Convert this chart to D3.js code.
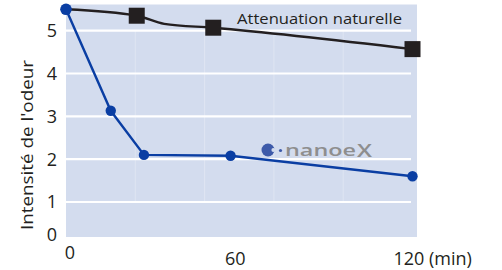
<!DOCTYPE html>
<html>
<head>
<meta charset="utf-8">
<script src="https://cdn.jsdelivr.net/npm/d3@7"></script>
<style>
  html, body { margin: 0; padding: 0; background: #fff; }
  svg { display: block; font-family: 'Open Sans', sans-serif; }
</style>
</head>
<body>
<div id="chart"></div>
<script>
// values
const nanoeTime = [0, 15.5, 27, 57, 120];
const nanoeValue = [5.5, 3.13, 2.1, 2.08, 1.6];

const naturalTime = [0, 24.5, 34, 51, 120];
const naturalValue = [5.5, 5.35, 5.16, 5.07, 4.57];
const naturalMarked = [false, true, false, true, true];

const yTicks = [0, 1, 2, 3, 4, 5];
const yGrid = [1, 2, 3, 4, 5];
const xGrid = [24, 48, 72, 96];
const xTicks = [0, 60, 120];
const xTickLabels = ['0', '60', '120 (min)'];

const yTitle = "Intensité de l'odeur";
const naturalLabel = 'Attenuation naturelle';

const width = 502, height = 270;
const plot = { left: 66, right: 417, top: 4.5, bottom: 237 };

const svg = d3.select('#chart').append('svg')
  .attr('width', width)
  .attr('height', height);

const x = d3.scaleLinear().domain([0, 120]).range([66, 412.5]);
const y = d3.scaleLinear().domain([0, 5]).range([244.8, 30.7]);

svg.append('rect')
  .attr('x', plot.left)
  .attr('y', plot.top)
  .attr('width', plot.right - plot.left)
  .attr('height', plot.bottom - plot.top)
  .attr('fill', '#d3dcee');

// faint vertical grid
svg.append('g')
  .selectAll('line')
  .data(xGrid)
  .join('line')
    .attr('x1', d => x(d)).attr('x2', d => x(d))
    .attr('y1', y(5)).attr('y2', y(1))
    .attr('stroke', '#dfe5f2')
    .attr('stroke-width', 1);

svg.append('g')
  .selectAll('line')
  .data(yGrid)
  .join('line')
    .attr('x1', plot.left).attr('x2', 411)
    .attr('y1', d => y(d)).attr('y2', d => y(d))
    .attr('stroke', '#fff')
    .attr('stroke-width', 2.2);

// y tick labels
svg.append('g')
  .attr('font-size', 18)
  .attr('fill', '#231f20')
  .attr('text-anchor', 'end')
  .selectAll('text')
  .data(yTicks)
  .join('text')
    .attr('x', 57)
    .attr('y', d => Math.min(y(d), 235))
    .attr('dy', '0.36em')
    .text(d => d);

// x tick labels
svg.append('g')
  .attr('font-size', 18)
  .attr('fill', '#231f20')
  .selectAll('text')
  .data(xTicks)
  .join('text')
    .attr('x', (d, i) => i === 0 ? x(d) + 4 : (i === xTicks.length - 1 ? x(d) - 19 : x(d) - 4))
    .attr('y', (d, i) => i === 0 ? 259 : 265)
    .attr('text-anchor', (d, i) => i === xTicks.length - 1 ? 'start' : 'middle')
    .text((d, i) => xTickLabels[i]);

svg.append('text')
  .attr('transform', 'translate(33,145) rotate(-90)')
  .attr('text-anchor', 'middle')
  .attr('font-size', 17)
  .attr('fill', '#231f20')
  .attr('textLength', 170)
  .attr('lengthAdjust', 'spacingAndGlyphs')
  .text(yTitle);

// natural attenuation
const natural = naturalTime.map((t, i) => ({ t, v: naturalValue[i], m: naturalMarked[i] }));
svg.append('path')
  .datum(natural)
  .attr('fill', 'none')
  .attr('stroke', '#231f20')
  .attr('stroke-width', 2.4)
  .attr('d', d3.line().x(d => x(d.t)).y(d => y(d.v)).curve(d3.curveMonotoneX));

svg.append('g')
  .selectAll('rect')
  .data(natural.filter(d => d.m))
  .join('rect')
    .attr('x', d => x(d.t) - 8)
    .attr('y', d => y(d.v) - 8)
    .attr('width', 16)
    .attr('height', 16)
    .attr('fill', '#231f20');

svg.append('text')
  .attr('x', 237)
  .attr('y', 24)
  .attr('font-size', 15)
  .attr('fill', '#231f20')
  .attr('textLength', 165)
  .attr('lengthAdjust', 'spacingAndGlyphs')
  .text(naturalLabel);

// nanoe series
const nanoe = nanoeTime.map((t, i) => ({ t, v: nanoeValue[i] }));
svg.append('path')
  .datum(nanoe)
  .attr('fill', 'none')
  .attr('stroke', '#0a3ea3')
  .attr('stroke-width', 2.4)
  .attr('d', d3.line().x(d => x(d.t)).y(d => y(d.v)));

svg.append('g')
  .selectAll('circle')
  .data(nanoe)
  .join('circle')
    .attr('cx', d => x(d.t))
    .attr('cy', d => y(d.v))
    .attr('r', (d, i) => i === 0 ? 5.8 : 5.2)
    .attr('fill', '#0a3ea3');

// nanoe X logo
const logo = svg.append('g').attr('transform', 'translate(268,150)');
logo.append('circle').attr('r', 6.5).attr('fill', '#3d5aa9');
logo.append('circle').attr('cx', 5.4).attr('cy', 0).attr('r', 2).attr('fill', '#d3dcee');
logo.append('circle').attr('cx', 12.5).attr('cy', 0.5).attr('r', 1.6).attr('fill', '#3d5aa9');
logo.append('text')
  .attr('x', 17)
  .attr('y', 5.5)
  .attr('font-size', 16)
  .attr('font-weight', 600)
  .attr('fill', '#8e8e8e')
  .attr('textLength', 71)
  .attr('lengthAdjust', 'spacingAndGlyphs')
  .text('nanoe');
logo.append('text')
  .attr('x', 89)
  .attr('y', 6.5)
  .attr('font-size', 18)
  .attr('font-weight', 600)
  .attr('fill', '#8e8e8e')
  .attr('textLength', 15)
  .attr('lengthAdjust', 'spacingAndGlyphs')
  .text('X');
</script>
</body>
</html>
